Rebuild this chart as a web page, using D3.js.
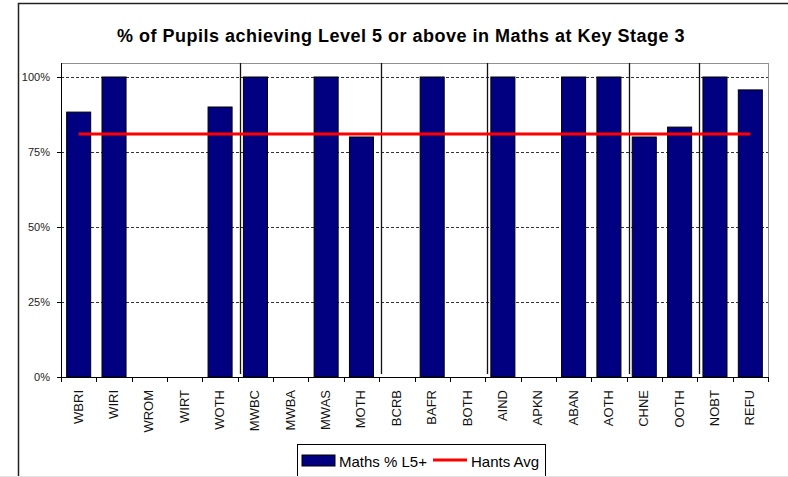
<!DOCTYPE html>
<html>
<head>
<meta charset="utf-8">
<script src="https://cdn.jsdelivr.net/npm/d3@7"></script>
<style>
  body { margin: 0; background: #fff; }
  svg { display: block; }
</style>
</head>
<body>
<script>
// categories and values
const categories = ["WBRI", "WIRI", "WROM", "WIRT", "WOTH", "MWBC", "MWBA", "MWAS", "MOTH", "BCRB",
                    "BAFR", "BOTH", "AIND", "APKN", "ABAN", "AOTH", "CHNE", "OOTH", "NOBT", "REFU"];
const mathsL5 = [0.883, 1.0, null, null, 0.90, 1.0, null, 1.0, 0.80, null,
                 1.0, null, 1.0, null, 1.0, 1.0, 0.80, 0.833, 1.0, 0.957];
const hantsAvg = 0.81;
const yTicks = [0, 0.25, 0.5, 0.75, 1.0];
// index of first category in each new ethnic group
const groupStarts = [5, 9, 12, 16, 18];

const W = 788, H = 477;
const font = "'Liberation Sans', Arial, sans-serif";
const narrow = "'Liberation Sans Narrow', 'Arial Narrow', 'Liberation Sans', Arial, sans-serif";

const svg = d3.select("body")
    .append("svg")
    .attr("width", W)
    .attr("height", H)

// outer chart frame
svg.append("path")
    .attr("d", "M18.5," + H + "V3.5H" + W)
    .attr("fill", "none")
    .attr("stroke", "#222")
    .attr("stroke-width", 1.5)

svg.append("text")
    .attr("x", 401)
    .attr("y", 42)
    .attr("text-anchor", "middle")
    .style("font-family", font)
    .style("font-weight", "bold")
    .style("font-size", "18px")
    .style("letter-spacing", "0.5px")
    .text("% of Pupils achieving Level 5 or above in Maths at Key Stage 3")

const left = 61, right = 768, plotTop = 63;

const x = d3.scaleBand()
    .domain(categories)
    .range([left, right])
    .paddingInner(0.32)
    .paddingOuter(0.16)

const y = d3.scaleLinear()
    .domain([0, 1])
    .range([377, 77])

const step = x.step();
const edge = i => left + i * step;

// plot area box
svg.append("rect")
    .attr("x", left + 0.5)
    .attr("y", plotTop + 0.5)
    .attr("width", right - left)
    .attr("height", y(0) - plotTop)
    .attr("fill", "none")
    .attr("stroke", "#909090")

// dashed gridlines
svg.append("g")
    .selectAll("line")
    .data(yTicks.filter(d => d > 0))
    .join("line")
    .attr("x1", left)
    .attr("x2", right)
    .attr("y1", d => Math.round(y(d)) + 0.5)
    .attr("y2", d => Math.round(y(d)) + 0.5)
    .attr("stroke", "#333")
    .attr("stroke-dasharray", "3,2")

// group separators
svg.append("g")
    .selectAll("line")
    .data(groupStarts)
    .join("line")
    .attr("x1", d => Math.round(edge(d) + 2) + 0.5)
    .attr("x2", d => Math.round(edge(d) + 2) + 0.5)
    .attr("y1", plotTop)
    .attr("y2", y(0) - 3)
    .attr("stroke", "#111")
    .attr("stroke-width", 1.3)

// bars
svg.append("g")
    .selectAll("rect")
    .data(categories.map((c, i) => ({c: c, v: mathsL5[i]})).filter(d => d.v != null))
    .join("rect")
    .attr("x", d => x(d.c))
    .attr("y", d => y(d.v))
    .attr("width", x.bandwidth())
    .attr("height", d => y(0) - y(d.v))
    .attr("fill", "#000080")
    .attr("stroke", "#000")
    .attr("stroke-width", 1)

// Hants average line
const line = d3.line()
    .x(d => x(d) + x.bandwidth() / 2)
    .y(() => y(hantsAvg))

svg.append("path")
    .attr("d", line(categories))
    .attr("fill", "none")
    .attr("stroke", "#ff0000")
    .attr("stroke-width", 3)

// y axis
const yAxis = svg.append("g")
yAxis.append("line")
    .attr("x1", left + 0.5).attr("x2", left + 0.5)
    .attr("y1", plotTop).attr("y2", y(0) + 0.5)
    .attr("stroke", "#000")
yAxis.selectAll(".tk")
    .data(yTicks)
    .join("line")
    .attr("x1", left - 4).attr("x2", left)
    .attr("y1", d => Math.round(y(d)) + 0.5)
    .attr("y2", d => Math.round(y(d)) + 0.5)
    .attr("stroke", "#000")
yAxis.selectAll("text")
    .data(yTicks)
    .join("text")
    .attr("x", 50)
    .attr("y", d => y(d) + 4)
    .attr("text-anchor", "end")
    .style("font-family", font)
    .style("font-size", "11px")
    .style("fill", "#222")
    .text(d => d3.format(".0%")(d))

// x axis
const xAxis = svg.append("g")
xAxis.append("line")
    .attr("x1", left).attr("x2", right + 0.5)
    .attr("y1", y(0) + 0.5).attr("y2", y(0) + 0.5)
    .attr("stroke", "#000")
xAxis.selectAll(".tk")
    .data(d3.range(categories.length + 1))
    .join("line")
    .attr("x1", d => Math.round(edge(d)) + 0.5)
    .attr("x2", d => Math.round(edge(d)) + 0.5)
    .attr("y1", y(0))
    .attr("y2", y(0) + 5)
    .attr("stroke", "#000")
xAxis.selectAll("text")
    .data(categories)
    .join("text")
    .attr("transform", d => "translate(" + (x(d) + x.bandwidth() / 2 + 4) + ",390) rotate(-90)")
    .attr("text-anchor", "end")
    .style("font-family", narrow)
    .style("font-size", "13px")
    .style("fill", "#111")
    .text(d => d)

// legend
const lg = svg.append("g")
lg.append("rect")
    .attr("x", 297.5).attr("y", 444.5)
    .attr("width", 248).attr("height", 40)
    .attr("fill", "#fff")
    .attr("stroke", "#000")
lg.append("rect")
    .attr("x", 302).attr("y", 455)
    .attr("width", 33).attr("height", 11)
    .attr("fill", "#000080")
    .attr("stroke", "#000")
lg.append("text")
    .attr("x", 339).attr("y", 467)
    .style("font-family", narrow)
    .style("font-size", "15px")
    .text("Maths % L5+")
lg.append("line")
    .attr("x1", 433).attr("x2", 467)
    .attr("y1", 460).attr("y2", 460)
    .attr("stroke", "#ff0000")
    .attr("stroke-width", 3)
lg.append("text")
    .attr("x", 471).attr("y", 467)
    .style("font-family", narrow)
    .style("font-size", "15px")
    .text("Hants Avg")

svg.append("line")
    .attr("x1", 0).attr("x2", W)
    .attr("y1", 476.5).attr("y2", 476.5)
    .attr("stroke", "#e4e4e4")
</script>
</body>
</html>
